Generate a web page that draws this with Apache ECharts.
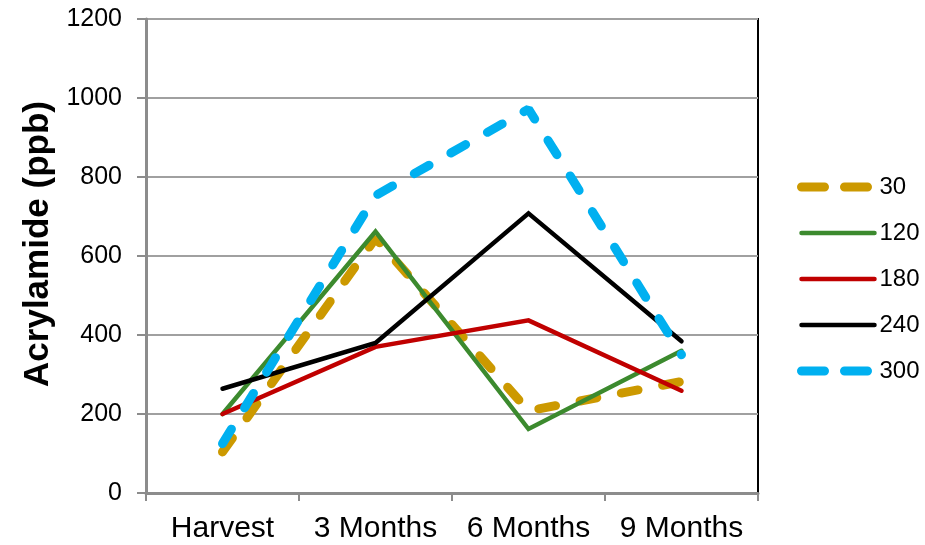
<!DOCTYPE html>
<html lang="en">
<head>
    <meta charset="UTF-8">
    <title>Acrylamide</title>
    <script src="https://cdn.jsdelivr.net/npm/echarts@6/dist/echarts.min.js"></script>
    <style>
        body { margin: 0; background: #fff; }
        #chart { width: 925px; height: 545px; }
    </style>
</head>
<body>
<div id="chart"></div>
<script type="text/javascript">
    // data
    var categories = ['Harvest', '3 Months', '6 Months', '9 Months'];
    var seriesNames = ['30', '120', '180', '240', '300'];
    var s30  = [104, 645, 208, 282];
    var s120 = [200, 662, 162, 360];
    var s180 = [200, 370, 437, 259];
    var s240 = [264, 380, 708, 384];
    var s300 = [125, 753, 972, 350];
    var yTicks = [0, 200, 400, 600, 800, 1000, 1200];

    var colors = ['#CC9900', '#3C8A2E', '#C00000', '#000000', '#00B0F0'];
    var dashed = [true, false, false, false, true];
    var font = 'Arial, "Liberation Sans", sans-serif';

    function lineStyleFor(i, legend) {
        if (dashed[i]) {
            return { color: colors[i], width: 9, type: legend ? [23, 20] : [17, 25], cap: 'round' };
        }
        return { color: colors[i], width: 4.5, cap: 'round', join: 'miter' };
    }

    var allData = [s30, s120, s180, s240, s300];
    var series = [];
    var legendData = [];
    for (var i = 0; i < seriesNames.length; i++) {
        series.push({
            name: seriesNames[i],
            type: 'line',
            data: allData[i],
            symbol: 'none',
            lineStyle: lineStyleFor(i, false),
            itemStyle: { color: colors[i] }
        });
        legendData.push({
            name: seriesNames[i],
            lineStyle: lineStyleFor(i, true),
            itemStyle: { opacity: 0 }
        });
    }

    var chart = echarts.init(document.getElementById('chart'));
    var option = {
        animation: false,
        grid: {
            left: 146, right: 167, top: 19, bottom: 52,
            show: true, borderColor: '#000', borderWidth: 2, backgroundColor: 'transparent'
        },
        legend: {
            orient: 'vertical',
            left: 797, top: 175,
            padding: 0,
            itemWidth: 73, itemHeight: 12, itemGap: 22,
            data: legendData,
            textStyle: { fontSize: 24, color: '#000', fontFamily: font }
        },
        xAxis: {
            type: 'category',
            data: categories,
            boundaryGap: true,
            axisLine: { lineStyle: { color: '#8c8c8c', width: 3 } },
            axisTick: { show: true, interval: 0, length: 8, lineStyle: { color: '#8c8c8c', width: 2 } },
            axisLabel: { interval: 0, hideOverlap: false, fontSize: 30, color: '#000', fontFamily: font, margin: 21 },
            splitLine: { show: false }
        },
        yAxis: {
            type: 'value',
            min: yTicks[0], max: yTicks[yTicks.length - 1], interval: 200,
            name: 'Acrylamide (ppb)',
            nameLocation: 'middle',
            nameGap: 90,
            nameTextStyle: { fontSize: 35, fontWeight: 'bold', color: '#000', fontFamily: font, padding: [0, 0, 0, 24] },
            axisLine: { show: true, lineStyle: { color: '#8c8c8c', width: 3 } },
            axisTick: { show: true, length: 9, lineStyle: { color: '#8c8c8c', width: 2 } },
            axisLabel: { fontSize: 25, color: '#000', fontFamily: font, margin: 24, formatter: function (v) { return String(v); } },
            splitLine: { lineStyle: { color: '#a0a0a0', width: 2 } }
        },
        series: series
    };
    chart.setOption(option);
</script>
</body>
</html>
